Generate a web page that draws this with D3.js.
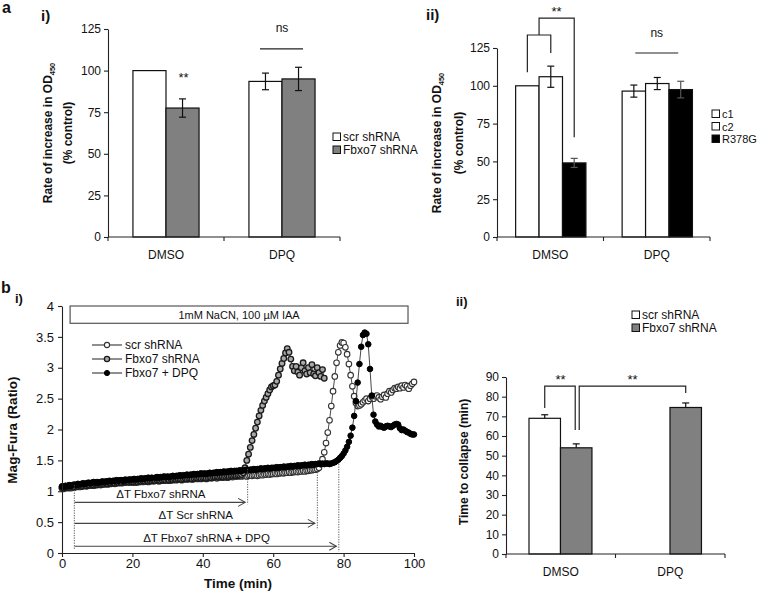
<!DOCTYPE html>
<html><head><meta charset="utf-8">
<script src="https://cdn.jsdelivr.net/npm/d3@7"></script>
<style>body{margin:0;background:#fff} svg text{font-family:"Liberation Sans",Arial,sans-serif;fill:#111}</style>
</head><body><svg id="c" width="759" height="595"></svg>
<script>
// ---------------- DATA ----------------
const barCategories = ["DMSO", "DPQ"];
const pctTicks = [0, 25, 50, 75, 100, 125];

// panel a-i
const aiScrMean = [100, 93.5];
const aiScrErr  = [0, 5];
const aiFbxMean = [77.5, 95];
const aiFbxErr  = [5.5, 7];

// panel a-ii
const aiiC1Mean = [100, 96.5];
const aiiC1Err  = [0, 4];
const aiiC2Mean = [106, 101.5];
const aiiC2Err  = [7, 4];
const aiiR378GMean = [49, 97.5];
const aiiR378GErr  = [3, 5.5];

// panel b-ii
const biiScrMean = [69, null];
const biiScrErr  = [1.8, null];
const biiFbxMean = [54, 74.5];
const biiFbxErr  = [2, 2.3];
const collapseTicks = [0,10,20,30,40,50,60,70,80,90];

// panel b-i (time series, min / ratio)
const timeTicks = [0, 20, 40, 60, 80, 100];
const ratioTicks = [0, 0.5, 1, 1.5, 2, 2.5, 3, 3.5, 4];
const timeMin = [
0,0.5,1,1.5,2,2.5,3,3.5,4,4.5,5,5.5,6,6.5,7,7.5,8,8.5,9,9.5,
10,10.5,11,11.5,12,12.5,13,13.5,14,14.5,15,15.5,16,16.5,17,17.5,18,18.5,19,19.5,
20,20.5,21,21.5,22,22.5,23,23.5,24,24.5,25,25.5,26,26.5,27,27.5,28,28.5,29,29.5,
30,30.5,31,31.5,32,32.5,33,33.5,34,34.5,35,35.5,36,36.5,37,37.5,38,38.5,39,39.5,
40,40.5,41,41.5,42,42.5,43,43.5,44,44.5,45,45.5,46,46.5,47,47.5,48,48.5,49,49.5,
50,50.5,51,51.5,52,52.5,53,53.5,54,54.5,55,55.5,56,56.5,57,57.5,58,58.5,59,59.5,
60,60.5,61,61.5,62,62.5,63,63.5,64,64.5,65,65.5,66,66.5,67,67.5,68,68.5,69,69.5,
70,70.5,71,71.5,72,72.5,73,73.5,74,74.5,75,75.5,76,76.5,77,77.5,78,78.5,79,79.5,
80,80.5,81,81.5,82,82.5,83,83.5,84,84.5,85,85.5,86,86.5,87,87.5,88,88.5,89,89.5,
90,90.5,91,91.5,92,92.5,93,93.5,94,94.5,95,95.5,96,96.5,97,97.5,98,98.5,99,99.5,
100];
const scrRatio = [
1.05,1.04,1.06,1.05,1.06,1.05,1.07,1.06,1.07,1.08,1.07,1.08,1.08,1.09,1.08,1.09,1.09,1.10,1.09,1.10,
1.10,1.11,1.10,1.11,1.11,1.12,1.11,1.12,1.12,1.13,1.12,1.13,1.13,1.14,1.13,1.14,1.14,1.15,1.14,1.15,
1.14,1.15,1.14,1.15,1.15,1.16,1.15,1.16,1.16,1.15,1.16,1.17,1.16,1.17,1.17,1.16,1.17,1.18,1.17,1.18,
1.18,1.17,1.18,1.18,1.19,1.18,1.19,1.19,1.18,1.19,1.20,1.19,1.20,1.20,1.19,1.20,1.21,1.20,1.21,1.20,
1.21,1.21,1.20,1.21,1.22,1.21,1.22,1.22,1.21,1.22,1.23,1.22,1.23,1.23,1.22,1.23,1.24,1.23,1.24,1.24,
1.24,1.25,1.24,1.25,1.25,1.24,1.25,1.26,1.25,1.26,1.26,1.25,1.26,1.27,1.26,1.27,1.27,1.28,1.27,1.28,
1.28,1.29,1.28,1.29,1.29,1.30,1.29,1.30,1.30,1.31,1.30,1.31,1.31,1.32,1.31,1.32,1.32,1.33,1.32,1.33,
1.33,1.34,1.34,1.35,1.35,1.36,1.38,1.44,1.52,1.63,1.78,1.95,2.15,2.38,2.62,2.86,3.08,3.25,3.36,3.41,
3.40,3.33,3.22,3.06,2.88,2.70,2.54,2.43,2.38,2.39,2.41,2.44,2.47,2.50,2.46,2.50,2.53,2.50,2.54,2.55,
2.52,2.49,2.53,2.56,2.52,2.58,2.62,2.60,2.64,2.67,2.66,2.69,2.67,2.71,2.68,2.72,2.70,2.66,2.71,2.74,
2.77];
const fbxRatio = [
1.06,1.05,1.06,1.07,1.06,1.07,1.08,1.07,1.08,1.08,1.09,1.08,1.09,1.10,1.09,1.10,1.10,1.11,1.10,1.11,
1.11,1.12,1.11,1.12,1.12,1.13,1.12,1.13,1.13,1.14,1.13,1.14,1.14,1.15,1.14,1.15,1.15,1.16,1.15,1.16,
1.15,1.15,1.16,1.15,1.16,1.16,1.17,1.16,1.17,1.16,1.17,1.17,1.18,1.17,1.18,1.18,1.17,1.18,1.19,1.18,
1.19,1.18,1.19,1.19,1.20,1.19,1.20,1.20,1.19,1.20,1.21,1.20,1.21,1.21,1.20,1.21,1.22,1.21,1.22,1.21,
1.22,1.22,1.21,1.22,1.23,1.22,1.23,1.23,1.24,1.23,1.24,1.24,1.23,1.24,1.25,1.24,1.25,1.25,1.26,1.25,
1.26,1.26,1.27,1.30,1.38,1.50,1.60,1.71,1.82,1.92,2.02,2.12,2.22,2.31,2.39,2.46,2.52,2.58,2.64,2.69,
2.71,2.72,2.78,2.88,2.98,3.07,3.15,3.24,3.31,3.25,3.14,3.02,2.95,3.02,2.93,2.88,3.00,3.08,2.95,2.90,
3.00,2.92,3.05,2.90,2.87,3.00,2.92,2.86,2.97,2.83];
const dpqRatio = [
1.08,1.07,1.09,1.08,1.10,1.09,1.10,1.11,1.10,1.12,1.11,1.12,1.13,1.12,1.13,1.14,1.13,1.14,1.15,1.14,
1.15,1.14,1.15,1.16,1.15,1.16,1.16,1.17,1.16,1.17,1.17,1.18,1.17,1.18,1.18,1.17,1.19,1.18,1.19,1.19,
1.19,1.20,1.19,1.20,1.20,1.21,1.20,1.21,1.21,1.22,1.21,1.22,null,1.22,1.23,1.22,1.23,1.23,1.24,1.23,
1.24,1.23,1.24,1.25,1.24,1.25,1.25,1.26,1.25,1.26,1.26,1.27,1.26,1.27,1.27,1.28,1.27,1.28,1.28,1.29,
1.28,1.29,1.28,1.29,1.30,1.29,1.30,1.30,1.31,1.30,1.31,1.31,1.32,1.31,1.32,1.32,1.33,1.32,1.33,1.33,
1.33,1.34,1.33,1.34,1.34,1.35,1.34,1.35,1.35,1.36,1.35,1.36,1.36,1.37,1.36,1.37,1.37,1.38,1.37,1.38,
1.38,1.38,1.39,1.38,1.39,1.39,1.40,1.39,1.40,1.40,1.41,1.40,1.41,1.41,1.42,1.41,1.42,1.42,1.43,1.42,
1.43,1.43,1.44,1.43,1.44,1.44,1.45,1.44,1.45,1.44,1.45,1.45,1.44,1.45,1.46,1.47,1.49,1.51,1.54,1.57,
1.61,1.66,1.72,1.80,1.90,2.03,2.22,2.46,2.76,3.06,3.34,3.53,3.57,3.55,3.38,2.98,2.55,2.24,2.13,2.08,
2.05,2.06,2.04,2.03,2.05,2.06,2.05,2.04,2.06,2.08,2.09,2.08,2.02,1.99,2.00,1.98,1.96,1.95,1.93,1.92,
1.92];
// delta-T annotations (start / end in min, arrow height in ratio units)
const deltaLabels = ["\u0394T Fbxo7 shRNA", "\u0394T Scr shRNA", "\u0394T Fbxo7 shRNA + DPQ"];
const deltaStart = [3.6, 3.6, 3.6];
const deltaEnd   = [52.6, 72.4, 78.5];
const deltaLevel = [0.82, 0.48, 0.11];
const deltaTop   = [1.36, 1.35, 1.44];
const deltaBottom= [0.79, 0.38, 0.02];

// ---------------- DRAW ----------------
const svg = d3.select("#c");
const FONT = '"Liberation Sans",Arial,sans-serif';

function txt(g, x, y, s, size, opts = {}) {
  return g.append("text").attr("x", x).attr("y", y).text(s)
    .attr("font-size", size).attr("text-anchor", opts.anchor || "start")
    .attr("font-weight", opts.bold ? "bold" : "normal");
}

function styleAxis(sel, size) {
  sel.attr("font-family", FONT).attr("font-size", size);
  sel.selectAll("path.domain").attr("stroke", "#222").attr("stroke-width", 1.1);
  sel.selectAll(".tick line").attr("stroke", "#222").attr("stroke-width", 1.1);
  sel.selectAll(".tick text").attr("fill", "#111");
}

function barPanel(cfg) {
  const g = svg.append("g");
  const y = d3.scaleLinear().domain(cfg.yDomain).range(cfg.yRange);
  const x0 = d3.scaleBand().domain(barCategories).range(cfg.xRange);
  const bw = x0.bandwidth();
  const x1 = d3.scaleBand().domain(cfg.series.map(s => s.name))
    .range([bw * cfg.inner[0], bw * cfg.inner[1]]);
  cfg.series.forEach(s => {
    barCategories.forEach((c, i) => {
      const m = s.mean[i];
      if (m == null) return;
      g.append("rect").attr("x", x0(c) + x1(s.name)).attr("width", x1.bandwidth())
        .attr("y", y(m)).attr("height", y(0) - y(m))
        .attr("fill", s.fill).attr("stroke", "#111").attr("stroke-width", 1.2);
    });
  });
  cfg.series.forEach(s => {
    barCategories.forEach((c, i) => {
      const m = s.mean[i], e = s.err[i];
      if (m == null || !e) return;
      const cx = x0(c) + x1(s.name) + x1.bandwidth() / 2;
      const lo = cfg.upOnly ? m : m - e;
      const col = s.fill === "#000" ? "#555" : "#111";
      g.append("line").attr("x1", cx).attr("x2", cx).attr("y1", y(m + e)).attr("y2", y(lo))
        .attr("stroke", col).attr("stroke-width", 1.2);
      g.append("line").attr("x1", cx - 3.5).attr("x2", cx + 3.5).attr("y1", y(m + e)).attr("y2", y(m + e))
        .attr("stroke", col).attr("stroke-width", 1.2);
      if (!cfg.upOnly)
        g.append("line").attr("x1", cx - 3.5).attr("x2", cx + 3.5).attr("y1", y(lo)).attr("y2", y(lo))
          .attr("stroke", col).attr("stroke-width", 1.2);
    });
  });
  const ya = g.append("g").attr("transform", `translate(${cfg.xRange[0]},0)`)
    .call(d3.axisLeft(y).tickValues(cfg.ticks).tickSize(4).tickSizeOuter(0).tickPadding(3));
  styleAxis(ya, cfg.tickSize || 12);
  const y0 = y(0);
  g.append("line").attr("x1", cfg.xRange[0]).attr("x2", cfg.xRange[1]).attr("y1", y0).attr("y2", y0)
    .attr("stroke", "#222").attr("stroke-width", 1.1);
  for (let i = 0; i <= barCategories.length; i++) {
    const xx = cfg.xRange[0] + i * x0.step();
    g.append("line").attr("x1", xx).attr("x2", xx).attr("y1", y0).attr("y2", y0 + 4)
      .attr("stroke", "#222").attr("stroke-width", 1.1);
  }
  barCategories.forEach(c => txt(g, x0(c) + bw / 2, y0 + 22, c, 12, {anchor: "middle"}));
  return {g, y, x0, x1};
}

function legendSquares(x, ys, items, size) {
  items.forEach((it, i) => {
    svg.append("rect").attr("x", x).attr("y", ys[i] - 4).attr("width", 7.5).attr("height", 7.5)
      .attr("fill", it.fill).attr("stroke", "#111").attr("stroke-width", 1);
    txt(svg, x + 10, ys[i] + 4, it.name, size || 12);
  });
}

function rotTitle(cy, lines, size) {
  lines.forEach(l => {
    const t = svg.append("text").attr("transform", `translate(${l.x},${cy}) rotate(-90)`)
      .attr("text-anchor", "middle").attr("font-size", size).attr("font-weight", "bold");
    if (l.sub) {
      t.append("tspan").text(l.text);
      t.append("tspan").text(l.sub).attr("font-size", size * 0.62).attr("dy", 3);
    } else t.text(l.text);
  });
}

// ---- panel labels
txt(svg, 2, 13, "a", 16, {bold: true});
txt(svg, 41, 21, "i)", 15, {bold: true});
txt(svg, 426, 20, "ii)", 15, {bold: true});
txt(svg, 1, 293, "b", 16, {bold: true});
txt(svg, 15, 303, "i)", 13, {bold: true});
txt(svg, 456, 306, "ii)", 13, {bold: true});

// ---- a-i
const A1 = barPanel({
  yDomain: [0, 125], yRange: [237, 29], xRange: [108, 340], inner: [0.215, 0.785], ticks: pctTicks,
  series: [
    {name: "scr shRNA", fill: "#fff", mean: aiScrMean, err: aiScrErr},
    {name: "Fbxo7 shRNA", fill: "#808080", mean: aiFbxMean, err: aiFbxErr}
  ]
});
rotTitle(133, [{x: 52, text: "Rate of increase in OD", sub: "450"}, {x: 72, text: "(% control)"}], 12);
{
  const {y, x0, x1} = A1;
  const fx = x0("DMSO") + x1("Fbxo7 shRNA") + x1.bandwidth() / 2;
  txt(svg, fx + 1, y(93), "**", 13, {anchor: "middle"});
  const dc = x0("DPQ") + x0.bandwidth() / 2;
  svg.append("line").attr("x1", dc - 22).attr("x2", dc + 21).attr("y1", y(113)).attr("y2", y(113))
    .attr("stroke", "#222").attr("stroke-width", 1.2);
  txt(svg, dc, y(123), "ns", 12, {anchor: "middle"});
}
legendSquares(333, [137, 150], [{name: "scr shRNA", fill: "#fff"}, {name: "Fbxo7 shRNA", fill: "#808080"}]);

// ---- a-ii
const A2 = barPanel({
  yDomain: [0, 125], yRange: [237, 48], xRange: [497, 710], inner: [0.175, 0.835], ticks: pctTicks,
  series: [
    {name: "c1", fill: "#fff", mean: aiiC1Mean, err: aiiC1Err},
    {name: "c2", fill: "#fff", mean: aiiC2Mean, err: aiiC2Err},
    {name: "R378G", fill: "#000", mean: aiiR378GMean, err: aiiR378GErr}
  ]
});
rotTitle(143, [{x: 441, text: "Rate of increase in OD", sub: "450"}, {x: 463, text: "(% control)"}], 12);
{
  const {y, x0, x1} = A2;
  const cx = n => x0("DMSO") + x1(n) + x1.bandwidth() / 2;
  const c1 = cx("c1"), c2 = cx("c2"), r = cx("R378G");
  const mid = (c1 + c2) / 2;
  svg.append("path").attr("d", `M${c1},${y(109)}V${y(133.6)}H${c2}V${y(121.7)}`)
    .attr("fill", "none").attr("stroke", "#222").attr("stroke-width", 1.2);
  svg.append("path").attr("d", `M${mid},${y(133.6)}V${y(144.8)}H${r}V${y(66)}`)
    .attr("fill", "none").attr("stroke", "#222").attr("stroke-width", 1.2);
  txt(svg, (mid + r) / 2, y(146), "**", 13, {anchor: "middle"});
  const dc = x0("DPQ") + x0.bandwidth() / 2;
  svg.append("line").attr("x1", dc - 21.5).attr("x2", dc + 21.5).attr("y1", y(121.7)).attr("y2", y(121.7))
    .attr("stroke", "#222").attr("stroke-width", 1.2);
  txt(svg, dc, y(132), "ns", 12, {anchor: "middle"});
}
legendSquares(712, [114, 126.5, 139], [{name: "c1", fill: "#fff"}, {name: "c2", fill: "#fff"}, {name: "R378G", fill: "#000"}], 11);

// ---- b-ii
const B2 = barPanel({
  yDomain: [0, 90], yRange: [554, 377], xRange: [506, 725], inner: [0.21, 0.785], ticks: collapseTicks,
  upOnly: true,
  series: [
    {name: "scr shRNA", fill: "#fff", mean: biiScrMean, err: biiScrErr},
    {name: "Fbxo7 shRNA", fill: "#808080", mean: biiFbxMean, err: biiFbxErr}
  ]
});
rotTitle(462, [{x: 468, text: "Time to collapse (min)"}], 12);
{
  const {y, x0, x1} = B2;
  const cs = x0("DMSO") + x1("scr shRNA") + x1.bandwidth() / 2;
  const cf = x0("DMSO") + x1("Fbxo7 shRNA") + x1.bandwidth() / 2;
  const cd = x0("DPQ") + x1("Fbxo7 shRNA") + x1.bandwidth() / 2;
  svg.append("path").attr("d", `M${cs},${y(74.2)}V${y(85.4)}H${cf - 1}V${y(63)}`)
    .attr("fill", "none").attr("stroke", "#222").attr("stroke-width", 1.2);
  svg.append("path").attr("d", `M${cf + 3},${y(63)}V${y(85.4)}H${cd}V${y(81.9)}`)
    .attr("fill", "none").attr("stroke", "#222").attr("stroke-width", 1.2);
  txt(svg, (cs + cf) / 2, y(86.5), "**", 13, {anchor: "middle"});
  txt(svg, (cf + 3 + cd) / 2, y(86.5), "**", 13, {anchor: "middle"});
}
legendSquares(632, [315, 328], [{name: "scr shRNA", fill: "#fff"}, {name: "Fbxo7 shRNA", fill: "#808080"}]);

// ---- b-i time series
{
  const g = svg.append("g");
  const x = d3.scaleLinear().domain([0, 100]).range([62, 414]);
  const y = d3.scaleLinear().domain([0, 4]).range([553, 306]);

  g.append("rect").attr("x", x(2.3)).attr("y", y(4)).attr("width", x(98.3) - x(2.3)).attr("height", y(3.72) - y(4))
    .attr("fill", "#fff").attr("stroke", "#555").attr("stroke-width", 1.2);
  txt(g, (x(2.3) + x(98.3)) / 2, y(3.86) + 4, "1mM NaCN, 100 \u00b5M IAA", 11, {anchor: "middle"});

  const series = [
    {name: "scr shRNA", vals: scrRatio, fill: "#fff", stroke: "#333", sw: 1.1},
    {name: "Fbxo7 shRNA", vals: fbxRatio, fill: "#a8a8a8", stroke: "#1a1a1a", sw: 1.3},
    {name: "Fbxo7 + DPQ", vals: dpqRatio, fill: "#000", stroke: "#000", sw: 1}
  ];
  const line = d3.line().defined(d => d.v != null).x(d => x(d.t)).y(d => y(d.v));
  series.forEach(s => {
    const pts = s.vals.map((v, i) => ({t: timeMin[i], v}));
    g.append("path").datum(pts).attr("d", line).attr("fill", "none").attr("stroke", "#333").attr("stroke-width", 0.9);
    g.selectAll(null).data(pts.filter(d => d.v != null)).join("circle")
      .attr("cx", d => x(d.t)).attr("cy", d => y(d.v)).attr("r", 2.8)
      .attr("fill", s.fill).attr("stroke", s.stroke).attr("stroke-width", s.sw);
  });

  deltaLabels.forEach((lab, i) => {
    const xs = x(deltaStart[i]), xe = x(deltaEnd[i]), yy = y(deltaLevel[i]);
    g.append("line").attr("x1", xe + 0.5).attr("x2", xe + 0.5)
      .attr("y1", y(deltaTop[i])).attr("y2", y(deltaBottom[i]))
      .attr("stroke", "#555").attr("stroke-width", 1).attr("stroke-dasharray", "1.2,1.3");
    g.append("line").attr("x1", xs).attr("x2", xe - 2).attr("y1", yy).attr("y2", yy)
      .attr("stroke", "#444").attr("stroke-width", 1.1);
    g.append("path").attr("d", `M${xe - 9},${yy - 4}L${xe - 2},${yy}L${xe - 9},${yy + 4}`)
      .attr("fill", "none").attr("stroke", "#444").attr("stroke-width", 1.1);
    txt(g, (xs + xe) / 2, yy - 4, lab, 11.5, {anchor: "middle"});
  });
  g.append("line").attr("x1", x(3.5)).attr("x2", x(3.5)).attr("y1", y(1.1)).attr("y2", y(0.06))
    .attr("stroke", "#555").attr("stroke-width", 1).attr("stroke-dasharray", "1.2,1.3");

  const ya = g.append("g").attr("transform", `translate(${x(0)},0)`)
    .call(d3.axisLeft(y).tickValues(ratioTicks).tickSize(4).tickSizeOuter(0).tickPadding(4).tickFormat(d3.format("~g")));
  styleAxis(ya, 13);
  const xa = g.append("g").attr("transform", `translate(0,${y(0)})`)
    .call(d3.axisBottom(x).tickValues(timeTicks).tickSize(4).tickSizeOuter(0).tickPadding(2));
  styleAxis(xa, 13);
  txt(g, (x(0) + x(100)) / 2, 588, "Time (min)", 13.5, {anchor: "middle", bold: true});
  rotTitle(430, [{x: 17, text: "Mag-Fura (Ratio)"}], 13.5);

  series.forEach((s, i) => {
    const ly = 345 + i * 14;
    g.append("line").attr("x1", 92).attr("x2", 122).attr("y1", ly).attr("y2", ly).attr("stroke", "#333").attr("stroke-width", 1.1);
    g.append("circle").attr("cx", 107).attr("cy", ly).attr("r", 2.6).attr("fill", s.fill).attr("stroke", s.stroke).attr("stroke-width", s.sw);
    txt(g, 125, ly + 4, s.name, 12);
  });
}
</script></body></html>
